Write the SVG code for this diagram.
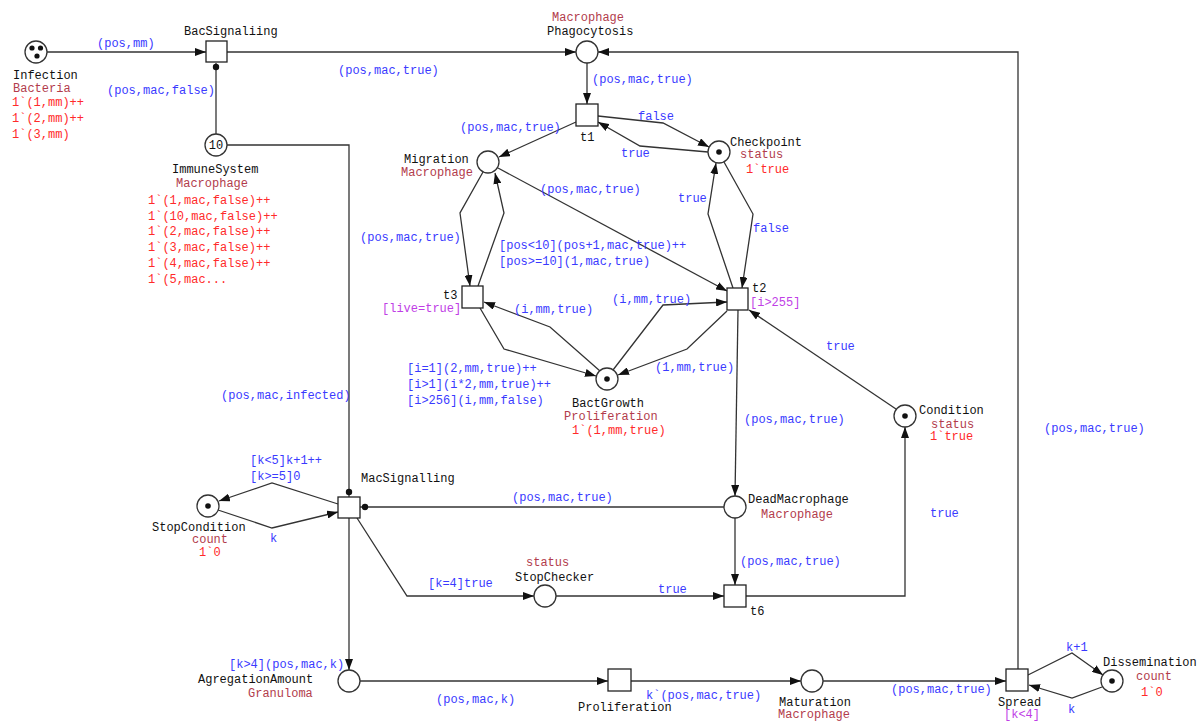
<svg xmlns="http://www.w3.org/2000/svg" width="1202" height="722" viewBox="0 0 1202 722">
<defs>
<marker id="arr" markerUnits="userSpaceOnUse" markerWidth="11" markerHeight="8" refX="11" refY="4" orient="auto"><path d="M0,0 L11,4 L0,8 z" fill="#111"/></marker>
</defs>
<style>
text{font-family:"Liberation Mono","DejaVu Sans Mono",monospace;font-size:12px}
.n{fill:#111}.t{fill:#b23c4c}.m{fill:#ff2a2a}.a{fill:#3a3aff}.g{fill:#c03ee6}
.pl{fill:#fff;stroke:#333;stroke-width:1.3}
.tr{fill:#fff;stroke:#222;stroke-width:1.3}
.tok{fill:#111}
#connectors path{fill:none;stroke:#333;stroke-width:1.3}
#connectors .ar{marker-end:url(#arr)}
</style>
<rect width="1202" height="722" fill="#fff"/>
<g id="connectors">
<path class="ar" d="M47,52 L206,52"/>
<path class="ar" d="M227,52 L576,52"/>
<path d="M216,134 L216,63"/><circle cx="216" cy="67" r="3.2" class="tok"/>
<path d="M227,145 L349,145 L349,497"/><circle cx="349" cy="492" r="3.2" class="tok"/>
<path class="ar" d="M587,63 L587,104"/>
<path class="ar" d="M598,116 L663,123 L709,147"/>
<path class="ar" d="M708,152 L640,146 L598,122"/>
<path class="ar" d="M576,122 L499,157"/>
<path class="ar" d="M498,168 L727,291"/>
<path class="ar" d="M483,172 L460,213 L470,286"/>
<path class="ar" d="M478,286 L504,213 L495,173"/>
<path class="ar" d="M724,162 L753,214 L742,288"/>
<path class="ar" d="M733,288 L708,214 L716,163"/>
<path class="ar" d="M600,371 L550,327 L484,302"/>
<path class="ar" d="M480,308 L504,349 L596,376"/>
<path class="ar" d="M613,370 L663,305 L727,302"/>
<path class="ar" d="M727,311 L687,349 L618,375"/>
<path class="ar" d="M738,310 L735,496"/>
<path class="ar" d="M896,409 L749,310"/>
<path class="ar" d="M338,504 L272,483 L219,501"/>
<path class="ar" d="M218,510 L272,528 L338,512"/>
<path d="M724,507 L360,507"/><circle cx="365" cy="507" r="3.2" class="tok"/>
<path class="ar" d="M357,518 L407,596 L534,596"/>
<path class="ar" d="M556,596 L724,596"/>
<path class="ar" d="M735,518 L735,585"/>
<path class="ar" d="M746,596 L905,596 L905,427"/>
<path class="ar" d="M349,518 L349,670"/>
<path class="ar" d="M360,681 L608,681"/>
<path class="ar" d="M631,681 L801,681"/>
<path class="ar" d="M823,681 L1006,681"/>
<path class="ar" d="M1018,669 L1018,52 L598,52"/>
<path class="ar" d="M1028,675 L1072,653 L1103,675"/>
<path class="ar" d="M1102,687 L1072,698 L1029,685"/>
</g>
<g id="arc-labels">
<text class="a" x="97" y="47">(pos,mm)</text>
<text class="a" x="107" y="94">(pos,mac,false)</text>
<text class="a" x="338" y="74">(pos,mac,true)</text>
<text class="a" x="592" y="83">(pos,mac,true)</text>
<text class="a" x="460" y="131">(pos,mac,true)</text>
<text class="a" x="638" y="120">false</text>
<text class="a" x="621" y="157">true</text>
<text class="a" x="540" y="193">(pos,mac,true)</text>
<text class="a" x="678" y="202">true</text>
<text class="a" x="753" y="232">false</text>
<text class="a" x="360" y="241">(pos,mac,true)</text>
<text class="a" x="499" y="249">[pos&lt;10](pos+1,mac,true)++</text>
<text class="a" x="499" y="265">[pos&gt;=10](1,mac,true)</text>
<text class="a" x="514" y="313">(i,mm,true)</text>
<text class="a" x="612" y="303">(i,mm,true)</text>
<text class="a" x="655" y="371">(1,mm,true)</text>
<text class="a" x="407" y="372">[i=1](2,mm,true)++</text>
<text class="a" x="407" y="388">[i&gt;1](i*2,mm,true)++</text>
<text class="a" x="407" y="404">[i&gt;256](i,mm,false)</text>
<text class="a" x="826" y="350">true</text>
<text class="a" x="221" y="399">(pos,mac,infected)</text>
<text class="a" x="744" y="423">(pos,mac,true)</text>
<text class="a" x="1044" y="432">(pos,mac,true)</text>
<text class="a" x="250" y="464">[k&lt;5]k+1++</text>
<text class="a" x="250" y="480">[k&gt;=5]0</text>
<text class="a" x="270" y="542">k</text>
<text class="a" x="512" y="501">(pos,mac,true)</text>
<text class="a" x="930" y="517">true</text>
<text class="a" x="740" y="565">(pos,mac,true)</text>
<text class="a" x="428" y="587">[k=4]true</text>
<text class="a" x="658" y="593">true</text>
<text class="a" x="229" y="668">[k&gt;4](pos,mac,k)</text>
<text class="a" x="436" y="703">(pos,mac,k)</text>
<text class="a" x="646" y="699">k`(pos,mac,true)</text>
<text class="a" x="891" y="693">(pos,mac,true)</text>
<text class="a" x="1066" y="651">k+1</text>
<text class="a" x="1068" y="713">k</text>
</g>
<g id="Infection">
<circle class="pl" cx="36" cy="52" r="11"/>
<circle class="tok" cx="32" cy="48" r="2.6"/><circle class="tok" cx="40.5" cy="48" r="2.6"/><circle class="tok" cx="37" cy="56" r="2.6"/>
<text class="n" x="13" y="79">Infection</text>
<text class="t" x="13" y="92">Bacteria</text>
<text class="m" x="12" y="106">1`(1,mm)++</text>
<text class="m" x="12" y="122">1`(2,mm)++</text>
<text class="m" x="12" y="138">1`(3,mm)</text>
</g>
<g id="BacSignaliing">
<rect class="tr" x="206" y="41" width="21" height="21"/>
<text class="n" x="184" y="35">BacSignaliing</text>
</g>
<g id="ImmuneSystem">
<circle class="pl" cx="216" cy="145" r="11"/>
<text class="n" x="216" y="149" text-anchor="middle">10</text>
<text class="n" x="172" y="173">ImmuneSystem</text>
<text class="t" x="176" y="187">Macrophage</text>
<text class="m" x="148" y="204">1`(1,mac,false)++</text>
<text class="m" x="148" y="220">1`(10,mac,false)++</text>
<text class="m" x="148" y="235">1`(2,mac,false)++</text>
<text class="m" x="148" y="251">1`(3,mac,false)++</text>
<text class="m" x="148" y="267">1`(4,mac,false)++</text>
<text class="m" x="148" y="283">1`(5,mac...</text>
</g>
<g id="Phagocytosis">
<circle class="pl" cx="587" cy="52" r="11"/>
<text class="t" x="552" y="21">Macrophage</text>
<text class="n" x="547" y="35">Phagocytosis</text>
</g>
<g id="t1">
<rect class="tr" x="576" y="104" width="22" height="22"/>
<text class="n" x="580" y="141">t1</text>
</g>
<g id="Checkpoint">
<circle class="pl" cx="719" cy="152" r="11"/>
<circle class="tok" cx="719" cy="152" r="2.8"/>
<text class="n" x="730" y="146">Checkpoint</text>
<text class="t" x="740" y="158">status</text>
<text class="m" x="746" y="173">1`true</text>
</g>
<g id="Migration">
<circle class="pl" cx="488" cy="162" r="11"/>
<text class="n" x="404" y="163">Migration</text>
<text class="t" x="401" y="176">Macrophage</text>
</g>
<g id="t3">
<rect class="tr" x="462" y="286" width="21" height="22"/>
<text class="n" x="443" y="299">t3</text>
<text class="g" x="382" y="312">[live=true]</text>
</g>
<g id="t2">
<rect class="tr" x="727" y="288" width="21" height="22"/>
<text class="n" x="752" y="292">t2</text>
<text class="g" x="750" y="306">[i&gt;255]</text>
</g>
<g id="BactGrowth">
<circle class="pl" cx="607" cy="379" r="11"/>
<circle class="tok" cx="607" cy="379" r="2.8"/>
<text class="n" x="572" y="407">BactGrowth</text>
<text class="t" x="564" y="420">Proliferation</text>
<text class="m" x="572" y="434">1`(1,mm,true)</text>
</g>
<g id="Condition">
<circle class="pl" cx="905" cy="416" r="11"/>
<circle class="tok" cx="905" cy="416" r="2.8"/>
<text class="n" x="919" y="414">Condition</text>
<text class="t" x="931" y="428">status</text>
<text class="m" x="930" y="440">1`true</text>
</g>
<g id="MacSignalling">
<rect class="tr" x="338" y="497" width="22" height="21"/>
<text class="n" x="361" y="482">MacSignalling</text>
</g>
<g id="StopCondition">
<circle class="pl" cx="208" cy="506" r="11"/>
<circle class="tok" cx="208" cy="506" r="2.8"/>
<text class="n" x="152" y="531">StopCondition</text>
<text class="t" x="192" y="543">count</text>
<text class="m" x="199" y="556">1`0</text>
</g>
<g id="DeadMacrophage">
<circle class="pl" cx="735" cy="507" r="11"/>
<text class="n" x="748" y="503">DeadMacrophage</text>
<text class="t" x="761" y="518">Macrophage</text>
</g>
<g id="StopChecker">
<circle class="pl" cx="545" cy="596" r="11"/>
<text class="t" x="526" y="566">status</text>
<text class="n" x="515" y="581">StopChecker</text>
</g>
<g id="t6">
<rect class="tr" x="724" y="585" width="22" height="22"/>
<text class="n" x="750" y="615">t6</text>
</g>
<g id="AgregationAmount">
<circle class="pl" cx="349" cy="681" r="11"/>
<text class="n" x="198" y="683">AgregationAmount</text>
<text class="t" x="248" y="697">Granuloma</text>
</g>
<g id="Proliferation">
<rect class="tr" x="608" y="669" width="23" height="22"/>
<text class="n" x="578" y="711">Proliferation</text>
</g>
<g id="Maturation">
<circle class="pl" cx="812" cy="681" r="11"/>
<text class="n" x="779" y="706">Maturation</text>
<text class="t" x="778" y="718">Macrophage</text>
</g>
<g id="Spread">
<rect class="tr" x="1006" y="669" width="22" height="22"/>
<text class="n" x="998" y="706">Spread</text>
<text class="g" x="1004" y="718">[k&lt;4]</text>
</g>
<g id="Dissemination">
<circle class="pl" cx="1112" cy="681" r="11"/>
<circle class="tok" cx="1112" cy="681" r="2.8"/>
<text class="n" x="1103" y="666">Dissemination</text>
<text class="t" x="1136" y="680">count</text>
<text class="m" x="1141" y="696">1`0</text>
</g>
</svg>
